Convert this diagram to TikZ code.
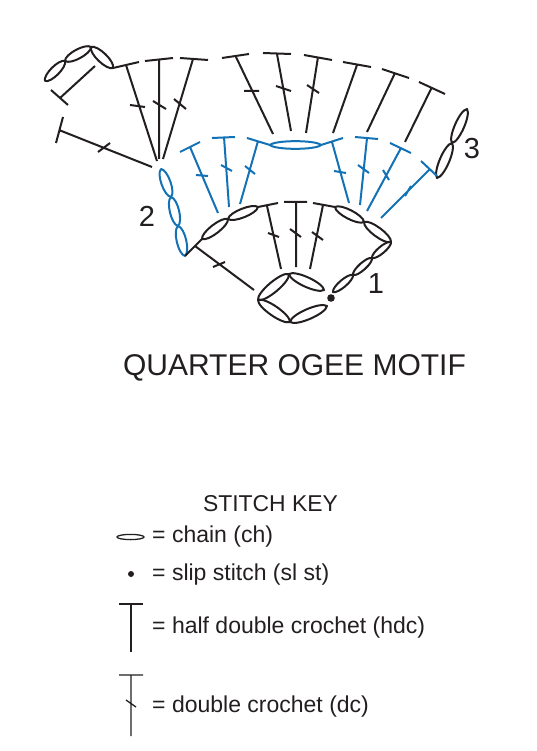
\documentclass[tikz,border=0pt]{standalone}
\usepackage{fontspec}
\setmainfont{Liberation Sans}
\definecolor{ink}{HTML}{231F20}
\definecolor{rowblue}{HTML}{1272B5}
\tikzset{
  yarn/.style={draw=ink,line width=2pt},
  blueyarn/.style={draw=rowblue,line width=2pt},
  label/.style={text=ink,anchor=base,inner sep=0pt,font=\fontsize{29}{34}\selectfont},
  keytext/.style={text=ink,anchor=base west,inner sep=0pt,font=\fontsize{23}{28}\selectfont}
}
% chain stitch between two points: a slim lens with an optional fatness
\def\getpts#1,#2;#3,#4;{\def\ax{#1}\def\ay{#2}\def\bx{#3}\def\by{#4}}
\newcommand{\chainst}[4][.31]{\getpts#3;#4;%
  \pgfmathsetmacro{\dx}{\bx-\ax}\pgfmathsetmacro{\dy}{\by-\ay}%
  \pgfmathsetmacro{\nx}{-\dy*#1*.667}\pgfmathsetmacro{\ny}{\dx*#1*.667}%
  \pgfmathsetmacro{\pax}{\ax+.1*\dx}\pgfmathsetmacro{\pay}{\ay+.1*\dy}%
  \pgfmathsetmacro{\pbx}{\ax+.9*\dx}\pgfmathsetmacro{\pby}{\ay+.9*\dy}%
  \draw[#2,line join=round] (\ax,\ay)
    .. controls ({\pax+\nx},{\pay+\ny}) and ({\pbx+\nx},{\pby+\ny}) .. (\bx,\by)
    .. controls ({\pbx-\nx},{\pby-\ny}) and ({\pax-\nx},{\pay-\ny}) .. cycle;}
% stitch: top bar, stem, optional cross bar
\newcommand{\hdcst}[5]{\draw[#1] (#2) -- (#3) (#4) -- (#5);}
\newcommand{\dcst}[7]{\draw[#1] (#2) -- (#3) (#4) -- (#5) (#6) -- (#7);}
\begin{document}
\begin{tikzpicture}[x=1pt,y=-1pt]
\useasboundingbox (0,0) rectangle (537,751);
% --- round 3, black
\chainst{yarn}{45,81}{65,61}
\chainst{yarn}{65,61}{91,47}
\chainst{yarn}{91,47}{113,68}
\hdcst{yarn}{51,90}{68,105}{60,98}{95,66}
\dcst{yarn}{56,143}{63,117}{59,130}{152,167}{98,152}{110,143}
\dcst{yarn}{113,68}{139,62}{126,65}{157,161}{130,105}{145,107}
\dcst{yarn}{145,61}{173,58}{159,60}{159,159}{153,101}{166,109}
\dcst{yarn}{180,58}{208,60}{193,59}{163,159}{174,99}{186,109}
\dcst{yarn}{222,58}{249,54}{236,57}{273,134}{244,91}{259,91}
\dcst{yarn}{263,53}{291,54}{277,54}{291,131}{276,86}{291,91}
\dcst{yarn}{304,55}{332,60}{318,57}{306,133}{307,85}{319,93}
\hdcst{yarn}{343,62}{371,67}{357,65}{333,133}
\hdcst{yarn}{382,69}{409,78}{395,73}{367,132}
\hdcst{yarn}{419,82}{445,94}{432,87}{405,142}
\chainst[.25]{yarn}{437,178}{452,143}
\chainst[.25]{yarn}{452,143}{467,109}
% --- round 2, blue
\chainst{blueyarn}{161,169}{171,197}
\chainst{blueyarn}{171,197}{178,226}
\chainst{blueyarn}{178,226}{185,256}
\dcst{blueyarn}{180,152}{200,142}{190,147}{218,213}{196,175}{208,176}
\dcst{blueyarn}{212,138}{235,137}{224,137}{229,207}{221,165}{232,171}
\dcst{blueyarn}{247,138}{270,145}{258,141}{240,204}{245,166}{255,174}
\chainst[.15]{blueyarn}{270,145}{321,145}
\dcst{blueyarn}{321,145}{343,138}{332,142}{349,203}{334,171}{346,173}
\dcst{blueyarn}{355,137}{378,139}{367,138}{360,205}{358,165}{369,173}
\dcst{blueyarn}{390,143}{411,153}{401,148}{367,211}{383,170}{389,180}
\dcst{blueyarn}{421,161}{437,176}{429,170}{381,218}{405,196}{411,186}
% --- round 1, black
\draw[yarn] (185,256) -- (202,239);
\chainst[.27]{yarn}{202,239}{228,219}
\chainst[.27]{yarn}{228,219}{258,207}
\dcst{yarn}{258,207}{278,203}{267,206}{281,269}{268,233}{279,237}
\dcst{yarn}{284,202}{307,202}{296,202}{296,267}{290,229}{301,237}
\dcst{yarn}{313,203}{335,207}{323,205}{310,269}{312,232}{323,240}
\chainst[.27]{yarn}{335,207}{364,222}
\chainst[.27]{yarn}{364,222}{391,242}
\chainst[.27]{yarn}{391,242}{372,258}
\chainst[.27]{yarn}{372,258}{353,275}
\chainst[.27]{yarn}{353,275}{333,292}
\hdcst{yarn}{195,246}{254,290}{213,267}{225,262}
\chainst[.25]{yarn}{258,300}{289,274}
\chainst[.25]{yarn}{289,274}{324,290}
\chainst[.25]{yarn}{258,300}{290,322}
\chainst[.25]{yarn}{290,322}{327,306}
\fill[ink] (331,298) circle (3.8);
% --- numbers and titles
\node[label] (n1) at (376,293) {1};
\node[label] (n2) at (147,226) {2};
\node[label] (n3) at (472,159) {3};
\node[label,font=\fontsize{30}{35}\selectfont] (title) at (294.5,375) {QUARTER OGEE MOTIF};
\node[label,font=\fontsize{22.9}{27}\selectfont] (keytitle) at (270.5,511) {STITCH KEY};
% --- key
\draw[draw=ink,line width=1.3pt] (130.5,537) ellipse (13.5 and 2.6);
\fill[ink] (131,574) circle (3);
\draw[draw=ink,line width=1.3pt] (119,604) -- (143,604) (131,604) -- (131,652);
\draw[draw=ink,line width=1.3pt] (119,675) -- (143,675) (131,675) -- (131,736) (126,700) -- (136,707);
\node[keytext] (k1) at (152,542) {= chain (ch)};
\node[keytext] (k2) at (152,580) {= slip stitch (sl st)};
\node[keytext] (k3) at (152,633) {= half double crochet (hdc)};
\node[keytext] (k4) at (152,712) {= double crochet (dc)};
\end{tikzpicture}
\end{document}
